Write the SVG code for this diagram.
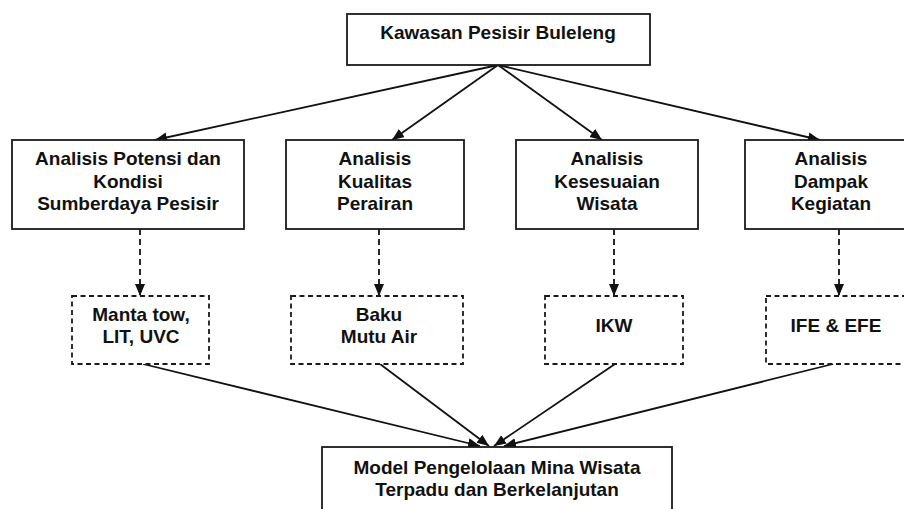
<svg xmlns="http://www.w3.org/2000/svg" width="904" height="509" viewBox="0 0 904 509">
  <style>
    .box { fill: #fff; stroke: #1a1a1a; stroke-width: 1.8; }
    .dbox { fill: #fff; stroke: #1a1a1a; stroke-width: 1.8; stroke-dasharray: 5 3.5; }
    .lbl { font-family: "Liberation Sans", Arial, sans-serif; font-weight: bold; font-size: 19px; fill: #111; text-anchor: middle; }
    .edge { stroke: #111; stroke-width: 1.8; fill: none; marker-end: url(#arr); }
    .dedge { stroke: #111; stroke-width: 1.8; fill: none; stroke-dasharray: 6 4; marker-end: url(#arr); }
  </style>
  <defs>
    <marker id="arr" markerUnits="userSpaceOnUse" markerWidth="13" markerHeight="11" refX="12" refY="5" orient="auto">
      <path d="M0,0 L12,5 L0,10 z" fill="#111"/>
    </marker>
  </defs>
  <rect width="904" height="509" fill="#fff"/>

  <g id="connectors">
    <line class="edge" x1="498" y1="65" x2="155" y2="140"/>
    <line class="edge" x1="498" y1="65" x2="392" y2="140"/>
    <line class="edge" x1="498" y1="65" x2="602" y2="140"/>
    <line class="edge" x1="498" y1="65" x2="820" y2="140"/>
    <line class="dedge" x1="140" y1="229" x2="140" y2="296"/>
    <line class="dedge" x1="379" y1="229" x2="379" y2="296"/>
    <line class="dedge" x1="614" y1="229" x2="614" y2="296"/>
    <line class="dedge" x1="839" y1="229" x2="839" y2="296"/>
    <line class="edge" x1="143" y1="364" x2="480" y2="446"/>
    <line class="edge" x1="380" y1="364" x2="489" y2="446"/>
    <line class="edge" x1="615" y1="364" x2="494" y2="446"/>
    <line class="edge" x1="833" y1="364" x2="504" y2="446"/>
  </g>

  <g id="kawasan">
    <rect class="box" x="347" y="14" width="303" height="51"/>
    <text class="lbl" x="498" y="39">Kawasan Pesisir Buleleng</text>
  </g>

  <g id="potensi">
    <rect class="box" x="12" y="140" width="232" height="89"/>
    <text class="lbl" x="128" y="165">Analisis Potensi dan</text>
    <text class="lbl" x="128" y="187.5">Kondisi</text>
    <text class="lbl" x="128" y="210">Sumberdaya Pesisir</text>
  </g>

  <g id="kualitas">
    <rect class="box" x="286" y="140" width="178" height="89"/>
    <text class="lbl" x="375" y="165">Analisis</text>
    <text class="lbl" x="375" y="187.5">Kualitas</text>
    <text class="lbl" x="375" y="210">Perairan</text>
  </g>

  <g id="kesesuaian">
    <rect class="box" x="516" y="140" width="182" height="89"/>
    <text class="lbl" x="607" y="165">Analisis</text>
    <text class="lbl" x="607" y="187.5">Kesesuaian</text>
    <text class="lbl" x="607" y="210">Wisata</text>
  </g>

  <g id="dampak">
    <rect class="box" x="745" y="140" width="172" height="89"/>
    <text class="lbl" x="831" y="165">Analisis</text>
    <text class="lbl" x="831" y="187.5">Dampak</text>
    <text class="lbl" x="831" y="210">Kegiatan</text>
  </g>

  <g id="manta">
    <rect class="dbox" x="72" y="296" width="137" height="68"/>
    <text class="lbl" x="141" y="321">Manta tow,</text>
    <text class="lbl" x="141" y="343">LIT, UVC</text>
  </g>

  <g id="baku">
    <rect class="dbox" x="291" y="296" width="172" height="68"/>
    <text class="lbl" x="379" y="321">Baku</text>
    <text class="lbl" x="379" y="343">Mutu Air</text>
  </g>

  <g id="ikw">
    <rect class="dbox" x="545" y="296" width="138" height="68"/>
    <text class="lbl" x="614" y="332">IKW</text>
  </g>

  <g id="ife">
    <rect class="dbox" x="766" y="296" width="148" height="68"/>
    <text class="lbl" x="836" y="332">IFE &amp; EFE</text>
  </g>

  <g id="model">
    <rect class="box" x="322" y="447" width="350" height="80"/>
    <text class="lbl" x="497" y="474">Model Pengelolaan Mina Wisata</text>
    <text class="lbl" x="497" y="496">Terpadu dan Berkelanjutan</text>
  </g>
</svg>
